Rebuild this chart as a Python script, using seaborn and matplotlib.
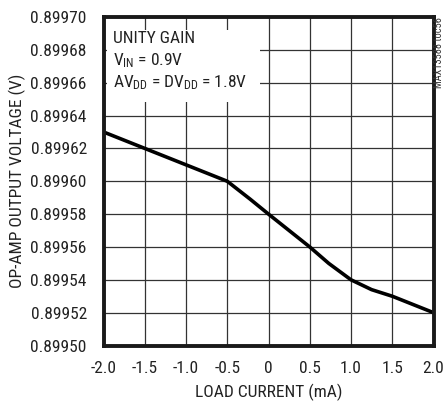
import matplotlib
matplotlib.use("Agg")
import matplotlib.pyplot as plt
from matplotlib.patches import Rectangle
import seaborn as sns
import pandas as pd

load_current = [-2.0, -1.5, -1.0, -0.5, -0.22, 0.0, 0.5, 0.73, 1.0, 1.25, 1.5, 2.0]
output_voltage = [0.89963, 0.89962, 0.89961, 0.89960, 0.899589, 0.89958, 0.89956,
                  0.89955, 0.89954, 0.899534, 0.89953, 0.89952]
x_ticks = [-2.0, -1.5, -1.0, -0.5, 0.0, 0.5, 1.0, 1.5, 2.0]
x_tick_labels = ["-2.0", "-1.5", "-1.0", "-0.5", "0", "0.5", "1.0", "1.5", "2.0"]
y_ticks = [0.89950, 0.89952, 0.89954, 0.89956, 0.89958, 0.89960, 0.89962, 0.89964,
           0.89966, 0.89968, 0.89970]

sns.set_theme(style="white")
plt.rcParams['font.family'] = ['Roboto Condensed', 'DejaVu Sans']
plt.rcParams['mathtext.fontset'] = 'custom'
plt.rcParams['mathtext.rm'] = 'Roboto Condensed'
plt.rcParams['mathtext.it'] = 'Roboto Condensed'
plt.rcParams['mathtext.default'] = 'rm'

df = pd.DataFrame({"x": load_current, "y": output_voltage})

W, H = 443, 405
L, R, T, B = 103.5, 433.5, 17, 345.5
fig = plt.figure(figsize=(W / 100, H / 100), dpi=100)
ax = fig.add_axes([L / W, 1 - B / H, (R - L) / W, (B - T) / H])

sns.lineplot(data=df, x="x", y="y", ax=ax, color="black", linewidth=2.6)

FS = 12.5
TC = "#222222"
ax.set_xlim(-2.0, 2.0)
ax.set_ylim(0.89950, 0.89970)
ax.set_xticks(x_ticks)
ax.set_xticklabels(x_tick_labels, fontsize=FS)
ax.set_yticks(y_ticks)
ax.set_yticklabels([f"{v:.5f}" for v in y_ticks], fontsize=FS)
ax.grid(True, color="#333333", linewidth=0.9)
ax.tick_params(axis="x", length=0, pad=11, colors=TC)
ax.tick_params(axis="y", length=0, pad=12, colors=TC)
for s in ax.spines.values():
    s.set_visible(True)
    s.set_color("#1a1a1a")
    s.set_linewidth(2.8)

ax.set_xlabel("LOAD CURRENT (mA)", fontsize=FS, color=TC, labelpad=6)
ax.set_ylabel("OP-AMP OUTPUT VOLTAGE (V)", fontsize=FS, color=TC)
ax.yaxis.set_label_coords((26 - L) / (R - L), 0.5)


def ax_x(px):
    return (px - L) / (R - L)


def ax_y(py):
    return (B - py) / (B - T)


# white background panel behind the annotation
ax.add_patch(Rectangle((ax_x(107), ax_y(102)), ax_x(260) - ax_x(107), ax_y(30) - ax_y(102),
                       transform=ax.transAxes, facecolor="white", edgecolor="none", zorder=1.5))

lines = ["UNITY GAIN",
         r"$\mathrm{V}_{\mathrm{IN}}$ = 0.9V",
         r"$\mathrm{AV}_{\mathrm{DD}}$ = $\mathrm{DV}_{\mathrm{DD}}$ = 1.8V"]
for txt, yc in zip(lines, [38.5, 60.5, 83]):
    ax.text(ax_x(113), ax_y(yc), txt, transform=ax.transAxes, fontsize=FS, color=TC,
            va="center", ha="left", zorder=5)

fig.text(439 / W, 1 - 17 / H, "MAX13588 toc56", rotation=90, fontsize=7.5,
         color="#333333", ha="center", va="top")

fig.savefig("out.png", dpi=100)
